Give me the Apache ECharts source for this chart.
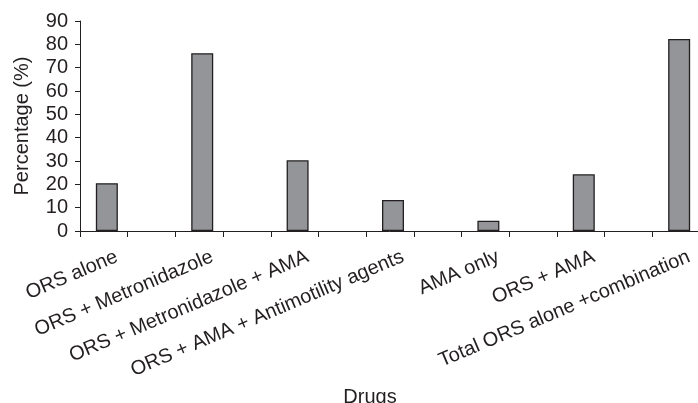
<!DOCTYPE html>
<html>
<head>
<meta charset="utf-8">
<script src="https://cdn.jsdelivr.net/npm/echarts@6/dist/echarts.min.js"></script>
<style>html,body{margin:0;padding:0;background:#fff}#c{width:698px;height:403px}</style>
</head>
<body>
<div id="c"></div>
<script>
var drugs = ['ORS alone', 'ORS + Metronidazole', 'ORS + Metronidazole + AMA', 'ORS + AMA + Antimotility agents', 'AMA only', 'ORS + AMA', 'Total ORS alone +combination'];
var percentages = [20.5, 76.2, 30.3, 13.3, 4.4, 24.3, 82.3];
var yTicks = [0, 10, 20, 30, 40, 50, 60, 70, 80, 90];

// interleave empty categories between the drug categories (as in the original layout)
var cats = [], vals = [];
drugs.forEach(function (d, i) {
  cats.push(d); vals.push(percentages[i]);
  if (i < drugs.length - 1) { cats.push(''); vals.push(null); }
});

var ink = '#231f20';
var font = 'Liberation Sans, Arial, Helvetica, sans-serif';
var yMin = yTicks[0], yMax = yTicks[yTicks.length - 1];
function hiddenY(gi) {
  return {type: 'value', gridIndex: gi, min: yMin, max: yMax, interval: 10, show: false, splitLine: {show: false}};
}
function hiddenX(gi, labels) {
  return {
    type: 'category', gridIndex: gi, data: cats,
    axisLine: {show: false}, axisTick: {show: false}, splitLine: {show: false},
    axisLabel: labels ? {interval: 0, rotate: 23, margin: 25, color: ink, fontSize: 20, fontFamily: font} : {show: false}
  };
}
function g(left) {
  return {left: left, top: 21, width: 620, height: 210, containLabel: false, outerBoundsMode: 'none'};
}
var chart = echarts.init(document.getElementById('c'), null, {renderer: 'canvas'});
chart.setOption({
  animation: false,
  backgroundColor: '#fff',
  grid: [g(80), g(83), g(93)],
  xAxis: [
    {
      type: 'category', gridIndex: 0,
      data: cats,
      name: 'Drugs',
      nameLocation: 'middle',
      nameGap: 156,
      nameTextStyle: {color: ink, fontSize: 20, fontFamily: font, padding: [0, 40, 0, 0]},
      axisLine: {lineStyle: {color: ink, width: 1}},
      axisTick: {show: true, interval: 0, length: 6, lineStyle: {color: ink}},
      axisLabel: {show: false}
    },
    hiddenX(1, false),
    hiddenX(2, true)
  ],
  yAxis: [
    {
      type: 'value', gridIndex: 0,
      min: yMin, max: yMax, interval: 10,
      name: 'Percentage (%)',
      nameLocation: 'middle',
      nameGap: 48,
      nameTextStyle: {color: ink, fontSize: 20, fontFamily: font},
      axisLine: {show: true, lineStyle: {color: ink, width: 1}},
      axisTick: {show: true, length: 5, lineStyle: {color: ink}},
      splitLine: {show: false},
      axisLabel: {margin: 12, color: ink, fontSize: 20, fontFamily: font, padding: [4, 0, 0, 0]}
    },
    hiddenY(1),
    hiddenY(2)
  ],
  series: [{
    type: 'bar',
    xAxisIndex: 1, yAxisIndex: 1,
    data: vals,
    barWidth: 22,
    itemStyle: {color: '#939598', borderColor: ink, borderWidth: 1.3}
  }]
});
</script>
</body>
</html>
